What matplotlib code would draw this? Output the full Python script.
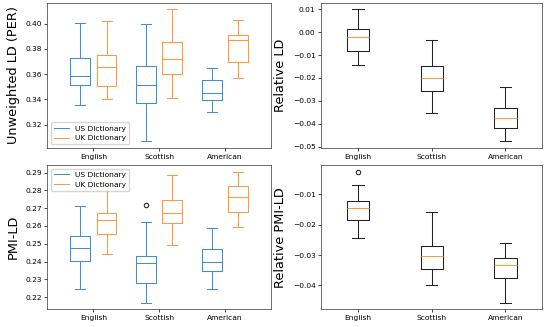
import matplotlib
matplotlib.use("Agg")
import matplotlib.pyplot as plt
import numpy as np

# categorias del eje x
categories = ["English", "Scottish", "American"]

# cada caja: [bigote inf, q1, mediana, q3, bigote sup]
ld_us = [[0.3359, 0.3518, 0.3582, 0.3727, 0.4005],
         [0.3068, 0.3375, 0.3513, 0.3669, 0.3997],
         [0.3298, 0.3393, 0.3452, 0.3558, 0.3653]]
ld_uk = [[0.3404, 0.3507, 0.3658, 0.3751, 0.4019],
         [0.3412, 0.3603, 0.3722, 0.3852, 0.4114],
         [0.3568, 0.3698, 0.3870, 0.3913, 0.4026]]

rel_ld = [[-0.0143, -0.0083, -0.0020, 0.0015, 0.0100],
          [-0.0351, -0.0256, -0.0200, -0.0149, -0.0033],
          [-0.0477, -0.0420, -0.0376, -0.0332, -0.0241]]

pmi_us = [[0.2247, 0.2405, 0.2478, 0.2543, 0.2714],
          [0.2168, 0.2277, 0.2393, 0.2431, 0.2624],
          [0.2243, 0.2344, 0.2399, 0.2472, 0.2588]]
pmi_us_fliers = [[], [0.2716], []]
pmi_uk = [[0.2442, 0.2555, 0.2633, 0.2675, 0.2830],
          [0.2495, 0.2615, 0.2675, 0.2746, 0.2887],
          [0.2594, 0.2680, 0.2765, 0.2825, 0.2906]]

rel_pmi = [[-0.0244, -0.0184, -0.0145, -0.0121, -0.0068],
           [-0.0397, -0.0345, -0.0302, -0.0270, -0.0157],
           [-0.0457, -0.0376, -0.0332, -0.0310, -0.0259]]
rel_pmi_fliers = [[-0.0025], [], []]

US_COLOR = "#4090cc"
UK_COLOR = "#ff9a40"
LW = 0.75
TICK_FS = 5.4
LABEL_FS = 9.3


def make_stats(rows, fliers=None):
    stats = []
    for i, r in enumerate(rows):
        stats.append({
            "whislo": r[0], "q1": r[1], "med": r[2], "q3": r[3], "whishi": r[4],
            "fliers": fliers[i] if fliers else [],
        })
    return stats


def style_axes(ax, ylabel):
    ax.set_ylabel(ylabel, fontsize=LABEL_FS)
    ax.tick_params(labelsize=TICK_FS, length=2, width=0.5, pad=2)
    for s in ax.spines.values():
        s.set_linewidth(0.5)
        s.set_color("#333333")


flierprops = dict(marker="o", markersize=3.2, markerfacecolor="none",
                  markeredgecolor="#222222", markeredgewidth=LW)


def paired(ax, us, uk, us_fl=None):
    pos = np.arange(len(categories))
    for rows, fl, col, off in [(us, us_fl, US_COLOR, -0.2), (uk, None, UK_COLOR, 0.2)]:
        bp = ax.bxp(make_stats(rows, fl), positions=pos + off, widths=0.3,
                    flierprops=flierprops)
        for key in ["boxes", "whiskers", "caps", "medians"]:
            plt.setp(bp[key], color=col, linewidth=LW)
    # lineas vacias solo para la leyenda
    ax.plot([], c=US_COLOR, label="US Dictionary", linewidth=LW)
    ax.plot([], c=UK_COLOR, label="UK Dictionary", linewidth=LW)
    ax.set_xticks(pos)
    ax.set_xticklabels(categories)
    ax.set_xlim(-0.7, len(categories) - 0.3)


def single(ax, rows, fl=None):
    pos = np.arange(1, len(categories) + 1)
    bp = ax.bxp(make_stats(rows, fl), positions=pos, widths=0.3,
                flierprops=flierprops)
    for key in ["boxes", "whiskers", "caps"]:
        plt.setp(bp[key], color="#222222", linewidth=LW)
    plt.setp(bp["medians"], color=UK_COLOR, linewidth=LW)
    ax.set_xticks(pos)
    ax.set_xticklabels(categories)
    ax.set_xlim(0.5, len(categories) + 0.5)


fig = plt.figure(figsize=(5.44, 3.27), dpi=100)
ax1 = fig.add_axes([0.0873, 0.5474, 0.4107, 0.4443])
ax2 = fig.add_axes([0.5903, 0.5474, 0.4067, 0.4443])
ax3 = fig.add_axes([0.0873, 0.0541, 0.4107, 0.4413])
ax4 = fig.add_axes([0.5903, 0.0541, 0.4067, 0.4413])

paired(ax1, ld_us, ld_uk)
style_axes(ax1, "Unweighted LD (PER)")
ax1.legend(loc="lower left", fontsize=TICK_FS, handlelength=2.0,
           borderpad=0.4, labelspacing=0.45)

single(ax2, rel_ld)
style_axes(ax2, "Relative LD")

paired(ax3, pmi_us, pmi_uk, pmi_us_fliers)
style_axes(ax3, "PMI-LD")
ax3.legend(loc="upper left", fontsize=TICK_FS, handlelength=2.0,
           borderpad=0.4, labelspacing=0.45)

single(ax4, rel_pmi, rel_pmi_fliers)
style_axes(ax4, "Relative PMI-LD")

fig.savefig("out.png", dpi=100)
